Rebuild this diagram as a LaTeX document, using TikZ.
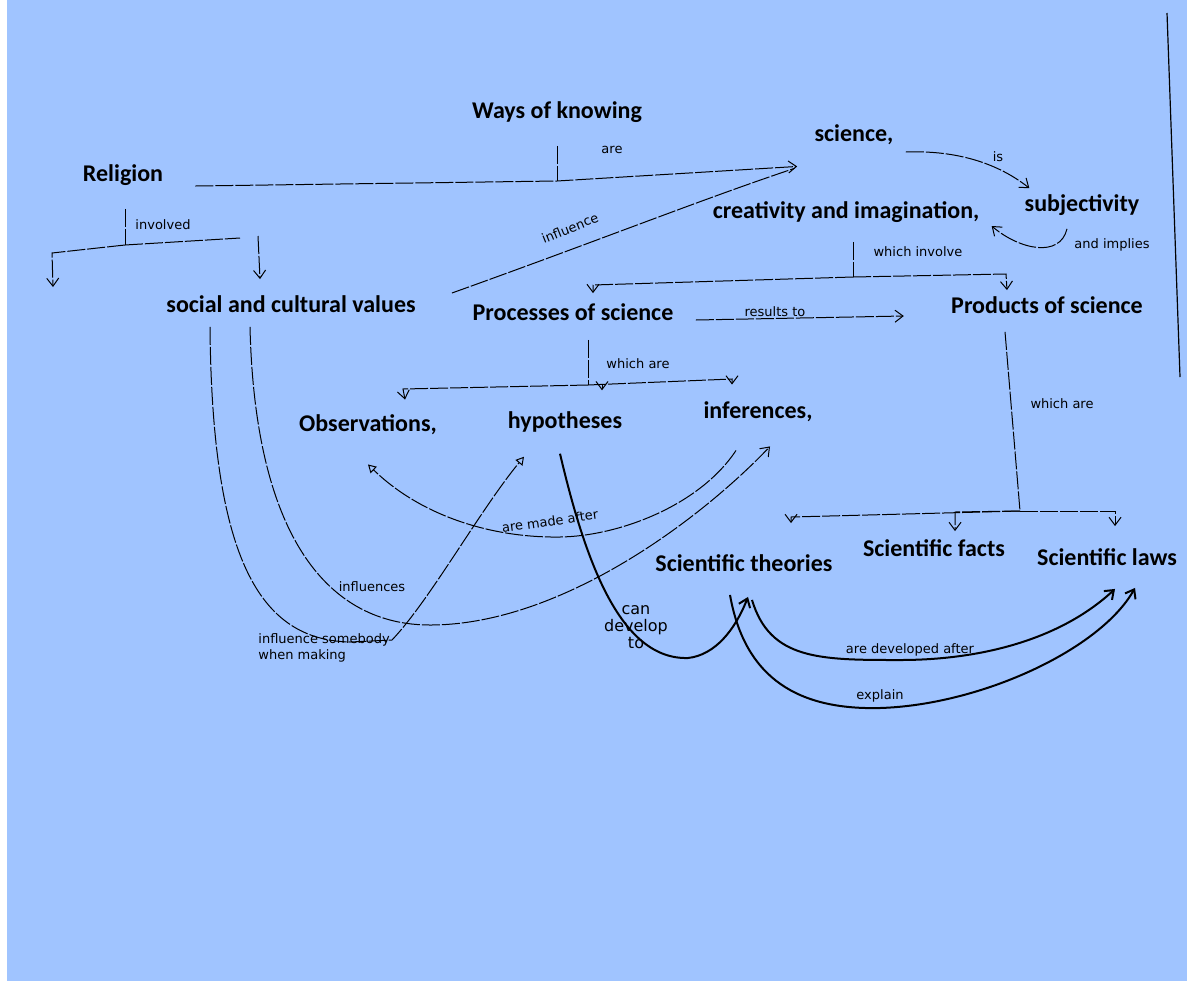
\documentclass[tikz,border=0pt]{standalone}
\usepackage{fontspec}
\setmainfont{Carlito}
\newfontfamily\handfont{DejaVu Sans}
\usepackage{tikz}
\usetikzlibrary{arrows.meta,calc}
\definecolor{scanblue}{RGB}{160,196,255}

\begin{document}
\begin{tikzpicture}[x=0.5pt,y=-0.5pt,
    concept/.style={font=\bfseries\fontsize{12}{14}\selectfont,inner sep=1pt},
    hand/.style={font=\handfont\fontsize{6.5}{8}\selectfont,inner sep=1pt},
    pen/.style={line width=0.5pt,dash pattern=on 9pt off 1pt},
    ink/.style={line width=1pt},
    barb/.style={-{Straight Barb[length=4pt,width=6pt]}},
    tri/.style={-{Triangle[open,length=4pt,width=4.5pt]}}]
    \useasboundingbox (0,0) rectangle (1187,980);
    \fill[scanblue] (-5,-5) rectangle (1195,990);
    \fill[white] (-5,-5) rectangle (7,990);
    \draw[line width=0.6pt] (1167,13) -- (1180,377);

    % concepts
    \node[concept] (ways) at (557,112) {Ways of knowing};
    \node[concept] (science) at (854,135) {science,};
    \node[concept] (religion) at (123,175) {Religion};
    \node[concept] (creat) at (846,212) {creativity and imagination,};
    \node[concept] (subj) at (1082,205) {subjectivity};
    \node[concept] (social) at (291,304) {social and cultural values};
    \node[concept] (proc) at (573,312) {Processes of science};
    \node[concept] (prod) at (1047,305) {Products of science};
    \node[concept] (obs) at (368,425) {Observations,};
    \node[concept] (hyp) at (565,422) {hypotheses};
    \node[concept] (inf) at (758,412) {inferences,};
    \node[concept] (theo) at (744,563) {Scientific theories};
    \node[concept] (facts) at (934,548) {Scientific facts};
    \node[concept] (laws) at (1107,557) {Scientific laws};

    % junctions
    \coordinate (j1) at (557,181);
    \coordinate (j2) at (125,245);
    \coordinate (j5) at (853,277);
    \coordinate (j8) at (588,385);
    \coordinate (j9) at (1020,511);
    \coordinate (lost) at (53,287);

    % Religion, Ways of knowing, science
    \draw[pen] ($(ways.south)+(0,21)$) -- (j1);
    \draw[pen,barb] ($(religion.east)+(30,11)$) -- (j1) -- ($(science.south west)+(-15,19)$);
    \node[hand] at (612,150) {are};
    \draw[pen] ($(religion.south)+(2,21)$) -- (j2);
    \draw[pen,barb] (j2) -- (240,238) (258,236) -- ($(social.north)+(-31,-14)$);
    \draw[pen,barb] (j2) -- (52,253) -- (lost);
    \node[hand] at (163,225) {involved};
    \draw[pen] ($(social.east)+(34,-11)$) .. controls (600,240) and (700,200) .. ($(science.south west)+(-18,21)$);
    \node[hand,rotate=22] at (570,228) {influence};

    % science, subjectivity, creativity
    \draw[pen,barb] ($(science.east)+(10,17)$) .. controls (960,150) and (1000,165) .. ($(subj.north west)+(7,-4)$);
    \node[hand] at (998,157) {is};
    \draw[pen,barb] ($(subj.south)+(-15,11)$) .. controls (1060,258) and (1020,250) .. ($(creat.east)+(10,14)$);
    \node[hand] at (1112,245) {and implies};
    \draw[pen] ($(creat.south)+(7,17)$) -- (j5);
    \draw[pen,barb] (j5) -- (593,285) -- ($(proc.north)+(20,-8)$);
    \draw[pen,barb] (j5) -- (1006,274) -- ($(prod.north)+(-40,-4)$);
    \node[hand] at (918,252) {which involve};

    % processes
    \draw[pen,barb] ($(proc.east)+(20,8)$) -- ($(prod.west)+(-45,11)$);
    \node[hand,anchor=south] at (775,319) {results to};
    \draw[pen] ($(proc.south)+(15,17)$) -- (j8);
    \draw[pen,barb] (j8) -- (403,389) -- ($(obs.north)+(37,-13)$);
    \draw[pen,barb] (j8) -- (732,379) -- ($(inf.north)+(-26,-15)$);
    \draw[pen,barb] ($(j8)+(14,-1)$) -- ($(hyp.north)+(37,-19)$);
    \node[hand] at (638,364) {which are};

    % products
    \draw[pen] ($(prod.south)+(-42,16)$) -- (j9);
    \draw[pen,barb] (j9) -- (791,517) -- ($(theo.north)+(47,-29)$);
    \draw[pen,barb] (j9) -- (955,512) -- ($(facts.north)+(21,-6)$);
    \draw[pen,barb] (j9) -- (1115,511) -- ($(laws.north)+(8,-20)$);
    \node[hand] at (1062,404) {which are};

    % social and cultural values
    \draw[pen,tri] (social.south) ++(-81,12)
        .. controls (212,560) and (260,640) .. (350,642) -- (392,640)
        .. controls (430,600) and (480,510) .. ($(hyp.south)+(-41,22)$);
    \node[hand,align=left,anchor=north west] at (256,631) {influence somebody\\when making};
    \draw[pen,barb] (social.south) ++(-41,12)
        .. controls (255,540) and (330,625) .. (430,625)
        .. controls (560,625) and (700,520) .. ($(inf.south)+(12,22)$);
    \node[hand] at (372,587) {influences};

    % observations and inferences
    \draw[pen,tri] ($(inf.south)+(-22,26)$) .. controls (700,505) and (620,536) .. (560,537)
        .. controls (490,538) and (420,515) .. ($(obs.south)+(0,27)$);
    \node[hand,rotate=8] at (550,521) {are made after};

    % theories and laws
    \draw[ink,barb] ($(hyp.south)+(-5,19)$) .. controls (585,560) and (620,660) .. (688,658)
        .. controls (715,655) and (735,630) .. ($(theo.south)+(4,23)$);
    \node[hand,align=center,font=\handfont\fontsize{8}{8.5}\selectfont] at (636,627) {can\\develop\\to};
    \draw[ink,barb] ($(theo.south)+(8,26)$) .. controls (770,660) and (820,660) .. (900,660)
        .. controls (980,660) and (1060,640) .. ($(laws.south)+(8,21)$);
    \node[hand,anchor=south] at (910,659) {are developed after};
    \draw[ink,barb] ($(theo.south)+(-14,21)$) .. controls (745,680) and (800,710) .. (880,708)
        .. controls (980,705) and (1100,650) .. ($(laws.south)+(28,20)$);
    \node[hand,anchor=south] at (880,705) {explain};
\end{tikzpicture}
\end{document}
